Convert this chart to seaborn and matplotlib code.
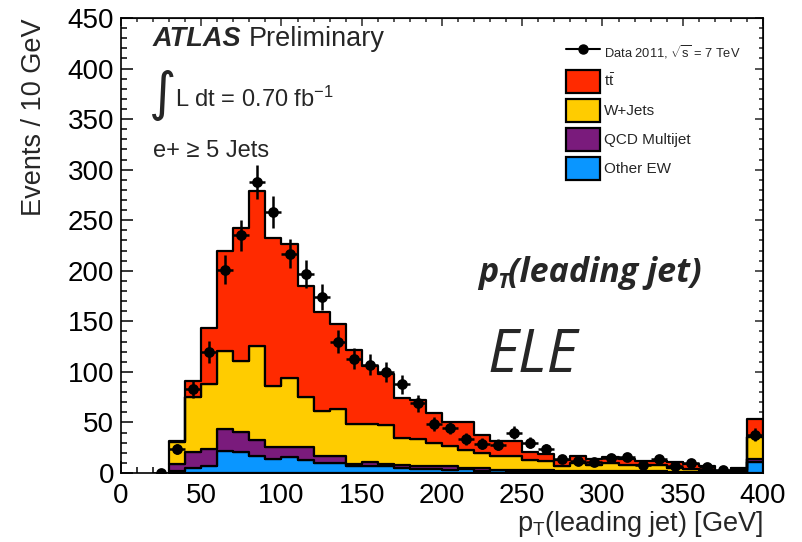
import numpy as np
import pandas as pd
import matplotlib
matplotlib.use("Agg")
import matplotlib.pyplot as plt
import seaborn as sns
from matplotlib.ticker import MultipleLocator
from matplotlib.patches import Patch
from matplotlib.lines import Line2D

# Binning of the leading-jet pT distribution (GeV), last bin holds the overflow
bin_low = np.arange(30, 400, 10)
bin_edges = [float(e) for e in np.arange(30, 410, 10)]

# Expected events per 10 GeV bin, per process
ttbar = [1, 16, 55, 99, 131, 153, 146, 132, 110, 98, 84, 74, 58, 51, 39, 38, 29, 23,
         27, 18, 15.5, 15, 7.5, 7.5, 6.4, 6.5, 6, 5.5, 6, 3.5, 3.5, 5.5, 5, 3.3, 0.4, 1.7, 17]
wjets = [22, 54, 64, 77, 70, 93, 60, 68, 49, 44, 46, 39, 37, 38, 27, 27, 23.5, 20.5,
         18.5, 15, 13.2, 13.7, 10.4, 9, 4.6, 8, 6, 8, 6.5, 6.5, 6.5, 3.8, 3, 2.5, 1.1, 2.7, 22]
qcd = [7, 16, 17, 22, 20, 16, 12, 10, 13, 7, 7, 2, 4, 2.5, 3, 3, 2.2, 3.2,
       0.5, 3, 0.7, 1.3, 1.0, 1, 0.8, 0.5, 0.7, 0.5, 0.5, 0.5, 0.5, 0.4, 0.3, 0.3, 0.2, 0.2, 3.5]
other_ew = [2, 5, 7, 22, 21, 17, 14, 16, 13, 10, 10, 7, 7, 6.5, 5, 4, 4.3, 3.3,
            4, 2, 2.6, 2, 1.6, 1.5, 1.2, 1.5, 1.3, 1.5, 1, 1, 1, 0.8, 0.7, 0.5, 0.3, 0.4, 10.5]

# Observed data, bins from 20 GeV upward
data_low = np.arange(20, 400, 10)
data_counts = [0, 24, 83, 120, 201, 235, 288, 258, 217, 197, 174, 130, 113, 107, 100, 88,
               69, 48, 45, 34, 29, 28, 40, 30, 24, 14, 12, 11, 15, 16, 8, 14, 7, 10, 6, 3, 1, 38]

processes = ["tt", "W+Jets", "QCD Multijet", "Other EW"]
legend_labels = [r"$\mathrm{t}\bar{\mathrm{t}}$", "W+Jets", "QCD Multijet", "Other EW"]
colors = ["#FF2A00", "#FFCC00", "#7A1B7C", "#0A96FF"]

sns.set_style("ticks")
plt.rcParams["font.family"] = ["Liberation Sans", "DejaVu Sans"]
plt.rcParams["mathtext.fontset"] = "custom"
plt.rcParams["mathtext.rm"] = "Liberation Sans"
plt.rcParams["mathtext.it"] = "Liberation Sans:italic"
plt.rcParams["mathtext.bf"] = "Liberation Sans:bold"

W, H = 803, 542
fig = plt.figure(figsize=(W / 100, H / 100), dpi=100)
ax = fig.add_axes([121 / W, 1 - 473 / H, (763 - 121) / W, (473 - 18) / H])

centers = bin_low + 5
frames = []
for name, vals in zip(processes, [ttbar, wjets, qcd, other_ew]):
    frames.append(pd.DataFrame({"pt": centers, "events": vals, "process": name}))
mc = pd.concat(frames, ignore_index=True)

sns.histplot(data=mc, x="pt", weights="events", hue="process", hue_order=processes,
             multiple="stack", bins=bin_edges, element="step", fill=True,
             palette=dict(zip(processes, colors)), edgecolor="black", linewidth=1.6,
             alpha=1, legend=False, ax=ax)

# Data points with Poisson errors
data = pd.DataFrame({"pt": data_low + 5, "n": data_counts})
ax.errorbar(data["pt"], data["n"], xerr=5, yerr=np.sqrt(data["n"]), fmt="none",
            ecolor="black", elinewidth=1.8, capsize=0, zorder=5)
sns.scatterplot(data=data, x="pt", y="n", color="black", s=60, edgecolor="black",
                linewidth=0, zorder=6, ax=ax)

ax.set_xlim(0, 400)
ax.set_ylim(0, 450)
ax.xaxis.set_major_locator(MultipleLocator(50))
ax.xaxis.set_minor_locator(MultipleLocator(10))
ax.yaxis.set_major_locator(MultipleLocator(50))
ax.yaxis.set_minor_locator(MultipleLocator(10))
ax.tick_params(which="both", direction="in", top=False, right=False, width=1.1,
               labelsize=20, colors="black")
ax.tick_params(which="major", length=8.5)
ax.tick_params(which="minor", length=4.3)
ax.tick_params(axis="y", pad=5)
ax.tick_params(axis="x", pad=7)
for s in ax.spines.values():
    s.set_linewidth(1.2)
    s.set_color("black")

# Shorter ticks on the opposite sides
top = ax.secondary_xaxis("top")
top.xaxis.set_major_locator(MultipleLocator(50))
top.xaxis.set_minor_locator(MultipleLocator(10))
top.tick_params(which="both", direction="in", labeltop=False, width=1.1)
top.tick_params(which="major", length=5.5)
top.tick_params(which="minor", length=3)
right = ax.secondary_yaxis("right")
right.yaxis.set_major_locator(MultipleLocator(50))
right.yaxis.set_minor_locator(MultipleLocator(10))
right.tick_params(which="both", direction="in", labelright=False, width=1.1)
right.tick_params(which="major", length=5.5)
right.tick_params(which="minor", length=3)

ax.set_xlabel(r"p$_\mathrm{T}$(leading jet) [GeV]", fontsize=19.5, loc="right", labelpad=0)
ax.set_ylabel("Events / 10 GeV", fontsize=19.5, loc="top", labelpad=15)

# Legend
handles = [Line2D([0], [0], color="black", lw=1.5, marker="o", markersize=6.5)]
handles += [Patch(facecolor=c, edgecolor="black", linewidth=1.6) for c in colors]
labels = [r"Data 2011, $\sqrt{\mathrm{s}}$ = 7 TeV"] + legend_labels
leg = fig.legend(handles, labels, loc="upper left", bbox_to_anchor=(566 / W, 1 - 41 / H),
                 frameon=False, fontsize=11, handlelength=2.2, handleheight=1.9,
                 labelspacing=0.42, handletextpad=0.3, borderpad=0, borderaxespad=0)
leg.get_texts()[0].set_fontsize(9.3)

# Annotations
fig.canvas.draw()
renderer = fig.canvas.get_renderer()
t_atlas = fig.text(153 / W, 1 - 46 / H, "ATLAS", fontsize=19.5, fontweight="bold",
                   fontstyle="italic", ha="left", va="baseline")
bb = t_atlas.get_window_extent(renderer)
fig.text((bb.x1 + 7) / W, 1 - 46 / H, "Preliminary", fontsize=19.5, ha="left", va="baseline")

fig.text(149 / W, 1 - 110 / H, "\u222b", fontsize=38, family="DejaVu Sans",
         ha="left", va="baseline")
fig.text(175 / W, 1 - 107 / H, r"L dt = 0.70 fb$^{\mathregular{-1}}$", fontsize=17,
         ha="left", va="baseline")
fig.text(153 / W, 1 - 157 / H, "e+ \u2265 5 Jets", fontsize=17, ha="left", va="baseline")

# Bold italic plot tag: p, subscript T, then the rest
tag_kw = dict(family="Open Sans", fontweight="bold", fontstyle="italic",
              ha="left", va="baseline")
t_p = fig.text(478 / W, 1 - 282 / H, "p", fontsize=24.5, **tag_kw)
bp = t_p.get_window_extent(renderer)
t_t = fig.text((bp.x1 - 1) / W, 1 - 288 / H, "T", fontsize=16, **tag_kw)
bt = t_t.get_window_extent(renderer)
fig.text((bt.x1 - 1) / W, 1 - 282 / H, "(leading jet)", fontsize=24.5, **tag_kw)

fig.text(487 / W, 1 - 372 / H, "ELE", fontsize=43, family="Open Sans",
         fontstyle="italic", ha="left", va="baseline")

fig.savefig("out.png", dpi=100)
